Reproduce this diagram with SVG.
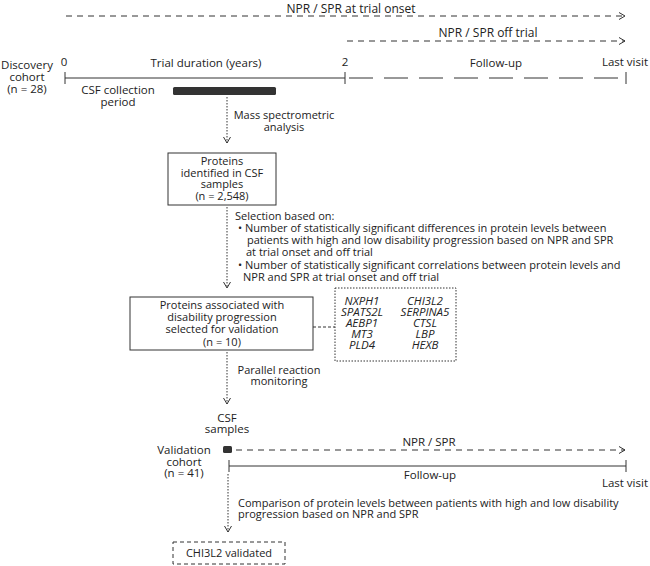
<svg xmlns="http://www.w3.org/2000/svg" width="650" height="566" viewBox="0 0 650 566">
<defs>
<style>
text{font-family:"Open Sans","Noto Sans","DejaVu Sans",sans-serif;font-size:11px;fill:#222}
.t{font-size:11.5px}
.b{font-size:12px}
.m{text-anchor:middle}
.e{text-anchor:end}
.i{font-style:italic;font-size:11.5px}
.ln{stroke:#333;stroke-width:1;fill:none}
.dash{stroke:#333;stroke-width:1;fill:none;stroke-dasharray:6 5}
.dot{stroke:#333;stroke-width:1;fill:none;stroke-dasharray:1.5 1.5}
.box{fill:#fff;stroke:#333;stroke-width:1}
.dbox{fill:#fff;stroke:#333;stroke-width:1;stroke-dasharray:1.5 1.5}
.dsbox{fill:#fff;stroke:#333;stroke-width:1;stroke-dasharray:4 3}
.head{stroke:#333;stroke-width:1;fill:none}
</style>
<marker id="ar" markerWidth="8" markerHeight="10" refX="6" refY="4" orient="auto" markerUnits="userSpaceOnUse">
<path d="M0,0.5 L6,4 L0,7.5" class="head"/>
</marker>
</defs>

<g id="connectors">
<line class="dash" x1="66" y1="16" x2="625" y2="16" marker-end="url(#ar)"/>
<line class="dash" x1="347" y1="41" x2="625" y2="41" marker-end="url(#ar)"/>
<line class="dot" x1="227" y1="97" x2="227" y2="143" marker-end="url(#ar)"/>
<line class="dot" x1="227" y1="207" x2="227" y2="288" marker-end="url(#ar)"/>
<line class="dash" x1="313" y1="327" x2="335" y2="327" style="stroke-dasharray:3 2"/>
<line class="dot" x1="227" y1="352" x2="227" y2="404" marker-end="url(#ar)"/>
<line class="dash" x1="236" y1="450" x2="625" y2="450" marker-end="url(#ar)"/>
<line class="dot" x1="228" y1="474" x2="228" y2="532" marker-end="url(#ar)"/>
</g>

<g id="top-arrows">
<text class="m b" x="351" y="12.5">NPR / SPR at trial onset</text>
<text class="m b" x="488" y="37">NPR / SPR off trial</text>
</g>

<g id="discovery-timeline">
<text class="m t" x="27" y="69">Discovery</text>
<text class="m t" x="27" y="81">cohort</text>
<text class="m t" x="27" y="93">(n = 28)</text>
<line class="ln" x1="65" y1="78" x2="345" y2="78"/>
<line class="ln" x1="345" y1="78" x2="626" y2="78" style="stroke-dasharray:24 11;stroke-dashoffset:-4"/>
<line class="ln" x1="65" y1="72" x2="65" y2="84"/>
<line class="ln" x1="345" y1="72" x2="345" y2="84"/>
<line class="ln" x1="626" y1="72" x2="626" y2="84"/>
<text class="m t" x="64" y="66">0</text>
<text class="m t" x="206" y="67">Trial duration (years)</text>
<text class="m t" x="345" y="66">2</text>
<text class="m t" x="496" y="67">Follow-up</text>
<text class="e t" x="648" y="66">Last visit</text>
<text class="m t" x="118" y="94">CSF collection</text>
<text class="m t" x="118" y="106">period</text>
<rect x="173" y="87" width="103" height="8" rx="1.5" fill="#333"/>
</g>

<g id="ms-label">
<text class="m" x="284" y="119">Mass spectrometric</text>
<text class="m" x="284" y="131">analysis</text>
</g>

<g id="proteins-identified">
<rect class="box" x="168" y="153" width="108" height="52"/>
<text class="m" x="222" y="165">Proteins</text>
<text class="m" x="222" y="177">identified in CSF</text>
<text class="m" x="222" y="188">samples</text>
<text class="m" x="222" y="200">(n = 2,548)</text>
</g>

<g id="selection-label">
<text x="235" y="220">Selection based on:</text>
<text x="238" y="232">• Number of statistically significant differences in protein levels between</text>
<text x="247" y="244">patients with high and low disability progression based on NPR and SPR</text>
<text x="246" y="256">at trial onset and off trial</text>
<text x="238" y="269">• Number of statistically significant correlations between protein levels and</text>
<text x="243" y="281">NPR and SPR at trial onset and off trial</text>
</g>

<g id="proteins-selected">
<rect class="box" x="130" y="297" width="183" height="53"/>
<text class="m" x="222" y="309">Proteins associated with</text>
<text class="m" x="222" y="321">disability progression</text>
<text class="m" x="222" y="333">selected for validation</text>
<text class="m" x="222" y="346">(n = 10)</text>
</g>

<g id="gene-list">
<rect class="dbox" x="335" y="288" width="121" height="73"/>
<text class="m i" x="362" y="305">NXPH1</text>
<text class="m i" x="362" y="316">SPATS2L</text>
<text class="m i" x="362" y="327">AEBP1</text>
<text class="m i" x="362" y="338">MT3</text>
<text class="m i" x="362" y="349">PLD4</text>
<text class="m i" x="425" y="305">CHI3L2</text>
<text class="m i" x="425" y="316">SERPINA5</text>
<text class="m i" x="425" y="327">CTSL</text>
<text class="m i" x="425" y="338">LBP</text>
<text class="m i" x="425" y="349">HEXB</text>
</g>

<g id="prm-label">
<text class="m" x="279" y="374">Parallel reaction</text>
<text class="m" x="279" y="385">monitoring</text>
</g>

<g id="validation-timeline">
<text class="m t" x="227" y="422">CSF</text>
<text class="m t" x="227" y="433">samples</text>
<text class="m t" x="184" y="454">Validation</text>
<text class="m t" x="184" y="466">cohort</text>
<text class="m t" x="184" y="477">(n = 41)</text>
<rect x="223" y="446" width="9" height="7" rx="1.5" fill="#333"/>
<text class="m t" x="429" y="446">NPR / SPR</text>
<line class="ln" x1="229" y1="466" x2="626" y2="466"/>
<line class="ln" x1="229" y1="460" x2="229" y2="472"/>
<line class="ln" x1="626" y1="460" x2="626" y2="472"/>
<text class="m t" x="430" y="479">Follow-up</text>
<text class="e t" x="648" y="487">Last visit</text>
</g>

<g id="comparison-label">
<text x="238" y="507">Comparison of protein levels between patients with high and low disability</text>
<text x="238" y="518">progression based on NPR and SPR</text>
</g>

<g id="chi3l2-validated">
<rect class="dsbox" x="173" y="542" width="112" height="22"/>
<text class="m" x="229" y="557">CHI3L2 validated</text>
</g>
</svg>
